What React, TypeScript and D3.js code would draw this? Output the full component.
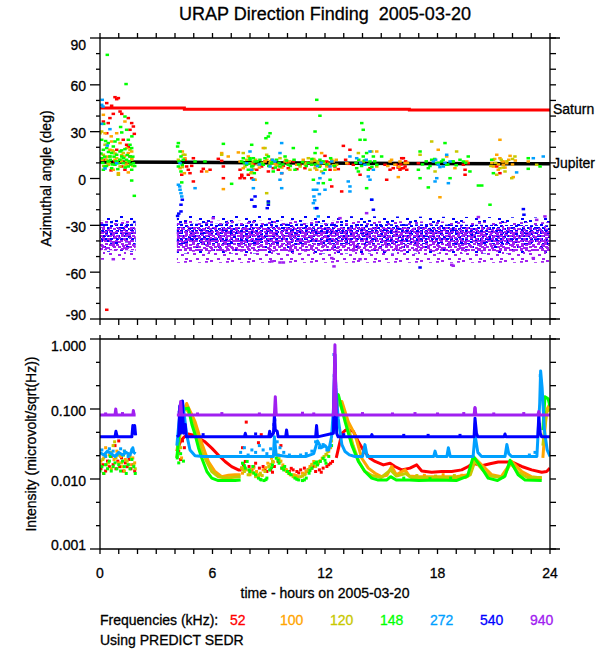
import React from "react";
import * as d3 from "d3";

type P = [number, number];
type Seg = (P | null)[];
type Band = [number, number, number] | null;

// ---------------- text / tick data ----------------
const titleText = "URAP Direction Finding  2005-03-20";
const xTitle = "time - hours on 2005-03-20";
const yTitleTop = "Azimuthal angle (deg)";
const yTitleBottom = "Intensity (microvolt/sqrt(Hz))";
const legendTitle = "Frequencies (kHz):";
const footNote = "Using PREDICT SEDR";
const freqLabels = ["52", "100", "120", "148", "272", "540", "940"];
const freqColors = ["#ff0000", "#ffa500", "#c8c800", "#00ff00", "#00a0ff", "#0000ff", "#a020f0"];
const hourLabels = [0, 6, 12, 18, 24];
const azMajor = [-90, -60, -30, 0, 30, 60, 90];
const intMajor = [0.001, 0.01, 0.1, 1];
const intLabels = ["0.001", "0.010", "0.100", "1.000"];
const planetLabels = ["Saturn", "Jupiter"];

// ---------------- planet directions (deg) ----------------
const saturnAz: P[] = [[0, 45.1], [4.5, 44.4], [16.5, 43.8], [24, 43.8]];
const jupiterAz: P[] = [[0, 10.5], [4.5, 10.4], [16.5, 9.6], [24, 9.4]];

// ---------------- azimuth scatter (hour, deg) ----------------
const az52: P[] = [
  [0.8, 52.1], [0.89, 50.8], [0.98, 51.5], [0.36, 48.3], [0.62, 46.6], [1.07, 42.9], [1.16, 41.4], [0.71, 41.4],
  [0.53, 38.7], [0.36, 29.0], [1.51, 38.7], [1.69, 35.5], [1.78, 33.3], [1.83, 28.6], [1.6, 31.2], [1.42, 21.6],
  [1.51, 20.1], [0.59, 5.2], [1.24, 24.8], [0.8, 10.9], [1.16, 7.7], [0.27, 12.0], [1.6, 14.1], [1.33, 5.6],
  [0.89, 18.4], [0.44, 35.5], [0.18, 36.5], [0.36, -84.1],
  [4.53, 12.0], [4.62, 7.7], [4.71, 5.6], [4.89, 8.1], [4.98, 13.0], [4.8, 3.4], [4.36, 2.4], [5.51, 6.2],
  [5.42, 4.5], [5.87, 5.6], [6.49, 11.3], [6.58, 7.7], [6.31, 12.6], [6.58, 0.2], [7.47, 0.2], [7.56, 2.4],
  [4.98, -1.9], [7.56, 1.3], [7.7, 0.2], [7.91, 2.4], [8.09, 0.2], [7.47, 5.6],
  [8.36, 5.6], [8.62, 7.7], [8.98, 4.5], [9.24, 6.6], [9.51, 5.6], [9.78, 8.1], [9.69, 3.4], [10.04, 6.6],
  [10.31, 10.9], [10.67, 8.8], [10.93, 6.6], [12.0, 14.5], [12.09, 10.9], [12.27, 5.6], [12.36, -5.1],
  [12.53, 7.7], [12.71, 6.0], [12.98, 20.9], [13.33, 18.4], [13.24, 9.4], [12.89, -8.3], [13.51, 8.8],
  [13.87, 2.4], [14.4, 6.6], [15.2, 8.8], [15.29, -0.8], [15.47, 5.6], [15.64, 6.6], [15.82, 8.8], [16.09, 6.6],
  [16.18, 13.0], [16.27, 7.7], [16.36, 5.6], [16.09, 13.0], [16.18, 6.6], [16.0, 5.6], [16.98, 9.8],
  [19.38, 8.8], [19.47, 5.6], [19.64, 9.8], [21.33, 3.4], [21.16, 7.7], [19.47, 2.4],
  [8.2, 9.0], [8.8, 11.0], [9.4, 9.0], [10.0, 10.0], [10.5, 6.0], [11.1, 10.0], [11.5, 8.5], [16.05, 9.0],
  [16.3, 11.0], [15.9, 7.0], [12.2, 8.0], [13.1, 12.0],
];
const az100: P[] = [
  [0.18, 40.8], [0.27, 29.0], [0.62, 23.7], [1.07, 22.7], [1.42, 19.5], [1.51, 16.3], [0.8, 12.0], [1.16, 10.9],
  [0.44, 8.8], [1.6, 8.8], [0.98, 3.4], [1.51, 3.9], [1.3, 14.1], [0.53, 18.4], [0.89, 29.0], [1.33, 36.5],
  [0.36, 21.6], [1.69, 17.3], [0.71, 5.6],
  [0.1, 12.0], [0.4, 14.0], [0.65, 18.0], [0.9, 11.0], [1.15, 15.0], [1.4, 9.0], [1.7, 13.0], [0.6, 27.0],
  [4.39, 17.3], [4.53, 13.0], [4.27, 6.6], [4.5, 3.4], [5.69, 4.5], [6.58, -6.8], [6.49, 16.3], [7.38, 16.7],
  [6.84, 14.1], [7.47, 10.9], [7.91, 14.1], [8.09, 4.5], [8.23, -0.8], [7.64, 6.6],
  [8.27, -0.8], [8.71, 19.5], [8.8, 10.9], [9.16, 12.0], [9.42, 8.8], [9.87, 10.9], [10.49, 8.8], [10.84, 12.0],
  [11.29, 8.8], [11.56, 5.6], [11.82, 16.3], [12.09, 7.7], [12.44, 10.9], [12.53, 5.6], [13.16, 9.8],
  [14.76, 17.3], [15.47, 10.9], [15.73, 8.8], [16.0, 10.9], [16.27, 9.8], [15.91, 0.9],
  [8.1, 9.0], [8.5, 7.0], [8.9, 12.0], [9.3, 9.5], [9.7, 7.0], [10.1, 11.0], [11.0, 10.0], [11.45, 11.5],
  [11.75, 8.0], [12.2, 9.5], [12.6, 12.0], [15.35, 8.0], [15.55, 12.0], [15.95, 7.5], [16.4, 10.0],
  [18.04, 18.4], [18.13, -12.0], [18.49, 14.1], [18.93, 6.6], [19.56, 10.9], [21.16, 15.2], [21.33, 13.0],
  [21.51, 8.8], [21.69, 9.8], [21.87, 14.5], [20.98, 7.7], [21.24, 5.6], [22.04, 0.9], [21.51, 10.9],
  [22.84, 10.9], [21.33, 24.8],
  [20.9, 10.0], [21.05, 12.5], [21.25, 9.0], [21.45, 11.0], [21.6, 7.0], [21.8, 12.0], [22.0, 9.0], [22.15, 11.5],
];
const az120: P[] = [
  [0.09, 30.1], [0.27, 21.6], [0.53, 14.1], [0.89, 13.0], [1.24, 16.3], [1.69, 12.0], [0.44, 9.8], [1.07, 7.7],
  [1.51, 10.9], [0.71, 17.3], [1.33, 7.7], [0.98, 2.4], [0.18, 15.2], [1.6, 18.4], [0.0, 29.0],
  [0.2, 8.0], [0.5, 10.0], [0.8, 16.0], [1.1, 12.0], [1.4, 11.0], [1.75, 8.0], [0.35, 12.0],
  [4.44, 15.2], [4.18, 12.0], [4.39, 7.3], [4.53, 15.2], [6.49, 15.2], [7.64, 16.3], [7.73, 7.7], [8.0, 9.8],
  [8.18, 6.0], [7.82, 12.0], [8.05, 3.4],
  [8.18, 10.9], [8.44, 8.8], [8.8, 19.5], [8.89, 15.2], [9.07, 9.8], [9.6, 13.0], [10.13, 5.6], [10.67, 7.7],
  [11.11, 13.0], [11.29, 10.9], [11.47, 6.6], [11.64, 9.8], [11.82, 4.5], [11.2, 5.6], [12.36, 12.0],
  [12.62, 8.8], [13.78, 16.3], [14.04, 10.9], [14.49, 17.3], [14.76, 7.7], [8.89, -9.4],
  [8.3, 12.0], [8.65, 10.0], [9.1, 11.0], [9.45, 8.0], [9.9, 12.0], [10.95, 9.0], [11.4, 12.5], [11.6, 11.0],
  [11.95, 10.0], [12.45, 8.5],
  [17.07, 15.2], [17.69, 23.7], [17.87, 4.5], [19.02, 17.3], [20.98, 12.0], [21.33, 6.6], [21.6, 4.5],
  [22.13, 14.1], [21.96, 0.2], [21.16, 2.4], [23.29, 8.8],
  [20.85, 8.0], [21.1, 10.0], [21.4, 12.0], [21.7, 11.0], [22.0, 12.5], [21.5, 7.0],
];
const az148: P[] = [
  [1.33, 39.7], [1.42, 31.2], [1.16, 29.5], [1.51, 24.8], [0.8, 23.7], [0.09, 24.8], [0.36, 19.5], [0.62, 16.3],
  [1.07, 17.3], [1.33, 18.8], [1.69, 19.5], [1.6, 14.1], [0.09, 13.0], [0.44, 10.9], [0.8, 8.8], [1.24, 9.8],
  [1.78, 9.8], [0.27, 7.7], [0.62, 6.6], [0.98, 9.8], [1.42, 12.0], [1.69, 5.6], [0.53, 14.1], [1.16, 14.1],
  [0.18, 18.4], [0.89, 15.2], [1.51, 7.7], [1.83, -11.1], [1.69, -1.3], [0.71, 20.5], [0.44, 22.7], [0.18, 5.6],
  [1.6, 21.6], [0.39, 79.2], [1.39, 60.5],
  [0.05, 16.0], [0.15, 10.0], [0.25, 14.0], [0.35, 8.0], [0.45, 17.0], [0.55, 12.0], [0.65, 9.0], [0.75, 14.0],
  [0.85, 11.0], [0.95, 6.0], [1.05, 12.0], [1.15, 18.0], [1.25, 13.0], [1.35, 7.0], [1.45, 15.0], [1.55, 11.0],
  [1.65, 9.0], [1.75, 14.0], [1.85, 8.0], [0.3, 24.0], [0.95, 25.0], [1.7, 27.0], [0.2, 35.0], [1.1, 33.0],
  [4.14, 20.5], [4.27, 17.3], [4.32, 14.1], [4.21, 10.9], [4.39, 8.8], [4.18, 7.7], [4.32, 4.5], [4.44, 12.0],
  [4.36, -2.5], [5.07, 10.9], [5.6, 10.9], [6.58, 22.2], [7.02, -3.4], [4.18, 22.7],
  [7.56, 10.9], [7.82, 8.8], [8.0, 12.0], [8.09, 7.7], [8.18, 13.0], [7.91, 5.6], [7.64, 13.0], [8.09, 21.6],
  [8.23, 3.4],
  [8.0, 13.0], [8.27, 10.9], [8.53, 12.0], [8.71, 8.8], [8.89, 35.5], [8.98, 26.9], [9.07, 29.0], [8.85, 25.8],
  [8.98, 14.1], [9.16, 9.8], [9.24, 4.5], [9.42, 12.0], [9.6, 7.7], [9.87, 14.1], [10.04, 8.8], [10.31, 19.5],
  [10.4, 5.6], [8.98, -15.4],
  [7.7, 10.0], [7.95, 9.5], [8.15, 8.0], [8.4, 11.0], [8.6, 9.5], [8.8, 13.0], [9.0, 8.0], [9.2, 11.5],
  [9.35, 7.0], [9.55, 10.0], [9.75, 9.0], [9.95, 11.5], [10.15, 8.0], [10.35, 12.0], [10.6, 9.0], [10.8, 10.5],
  [11.0, 8.0],
  [11.56, 50.4], [11.73, 40.2], [11.47, 30.1], [11.56, 19.5], [11.47, 16.3], [11.73, 12.0], [11.38, -0.8],
  [12.0, 5.6], [11.29, 8.8], [12.27, -0.8], [11.91, -3.0],
  [11.1, 10.0], [11.3, 12.5], [11.5, 9.0], [11.7, 7.5], [11.9, 11.0], [12.1, 9.0], [12.3, 13.0], [12.5, 8.0],
  [13.69, 6.6], [13.96, 35.5], [14.04, 31.2], [13.87, 24.8], [14.13, 24.8], [14.04, 14.1], [14.22, 16.3],
  [14.4, 10.9], [14.31, 5.6], [14.22, -6.2], [14.58, 14.1], [14.76, 8.8], [15.02, 14.1], [13.78, 4.5],
  [13.65, 10.0], [13.8, 12.0], [13.95, 8.0], [14.1, 11.5], [14.3, 9.0], [14.5, 7.5], [14.65, 11.0],
  [17.07, 17.3], [16.98, 5.6], [17.07, 0.2], [17.51, 6.6], [17.69, 12.0], [17.96, 9.8], [18.22, 10.9],
  [18.4, 22.7], [18.49, 8.8], [18.67, 0.2], [17.51, -5.7], [18.84, 10.9], [19.38, 10.9], [19.73, 4.5],
  [19.64, 14.1], [20.18, -4.5], [20.36, -4.5], [20.8, -16.8], [20.89, 12.0], [20.98, 3.4], [22.84, 13.0],
  [22.84, 6.2], [23.47, 7.7],
  [17.2, 9.0], [17.4, 11.0], [17.6, 8.0], [17.85, 12.5], [18.05, 10.0], [18.3, 12.0], [18.55, 9.0], [18.8, 11.0],
  [19.0, 8.5], [19.2, 12.0], [19.5, 10.0],
];
const az272: P[] = [
  [0.12, 50.4], [0.09, 47.2], [0.16, 46.1], [0.09, 35.0], [0.53, 31.6], [0.27, 6.4], [0.89, 9.8], [0.39, 21.1],
  [4.27, 9.8], [4.18, -4.0], [4.27, -7.2], [4.32, -9.4], [4.36, -11.5], [5.07, -6.2], [4.25, -5.1],
  [8.0, 17.3], [8.09, 5.6], [7.82, 9.8], [8.18, -0.8],
  [8.18, -6.2], [9.69, 22.7], [9.6, 16.3], [9.69, -6.2], [9.6, -0.8], [9.07, 7.7], [9.33, 10.9], [9.69, 3.4],
  [11.38, -7.2], [11.41, -11.5], [11.38, -15.8], [11.47, -19.0], [11.56, -7.2], [11.64, -3.0], [11.73, 0.2],
  [11.91, 3.4], [12.0, -7.2], [12.27, 7.7], [12.36, 10.9], [11.56, -19.0], [11.64, -24.3],
  [13.33, -5.1], [13.33, -8.3], [13.24, -1.9], [13.33, 14.1], [13.69, 13.0], [14.4, 17.3], [14.31, 1.3],
  [14.4, -0.8], [14.13, 8.8], [14.49, -13.6], [14.58, 5.6],
  [17.78, 10.9], [18.04, 8.8], [18.31, 7.7], [18.49, 15.2], [17.96, 0.2], [17.87, -1.9], [18.58, -3.0],
  [18.67, 10.9], [22.22, 3.9], [23.11, 13.0], [23.64, 14.1], [18.13, 7.3],
  [8.5, 9.0], [9.2, 12.0], [11.6, 8.0], [11.8, 10.0], [13.9, 10.0], [14.2, 12.0], [17.9, 12.0], [18.4, 10.0],
  [11.7, -10.0], [11.45, -14.0],
];
const az540: P[] = [
  [4.39, -13.6], [4.32, -16.8], [4.32, -21.1], [8.23, -17.9], [8.09, -13.6], [8.27, -11.5], [8.27, -17.9],
  [8.98, -14.7], [8.92, -19.0], [8.98, -16.8], [14.49, -13.6], [14.58, -20.0], [11.56, -19.0], [22.58, -19.6],
  [22.61, -23.2], [17.07, -57.0], [4.14, -24.0], [4.2, -22.5],
];
const az940: P[] = [
  [9.16, -53.1], [9.6, -53.8], [9.78, -53.8], [12.36, -51.0], [12.48, -56.3], [13.87, -51.7], [14.22, -22.2],
  [12.8, -25.4], [18.76, -55.3], [18.84, -55.9], [23.73, -24.3], [23.29, -26.5], [20.18, -24.7],
  [23.11, -51.0], [0.71, -51.7], [6.04, -25.4],
];
// dense bands of 540 and 940 kHz directions: (hour, low, high)
const band540: Band[] = [[0, -41, -29], [1.9, -41, -29], null, [4.1, -42, -29], [12, -42, -29], [24, -42, -30]];
const halo540: Band[] = [[0, -47, -24], [1.9, -47, -24], null, [4.1, -48, -24], [12, -48, -24], [24, -48, -25]];
const band940: Band[] = [[0, -52, -27], [1.9, -52, -27], null, [4.1, -54, -27], [12, -54, -27], [24, -54, -28]];
const core940: Band[] = [[0, -46, -31], [1.9, -46, -31], null, [4.1, -47, -31], [12, -47, -31], [24, -47, -32]];

// ---------------- intensity traces (hour, microvolt/sqrt(Hz)) ----------------
const int52: Seg = [
  [4.1, 0.025], [4.3, 0.035], [4.5, 0.04], [4.7, 0.044], [4.89, 0.043], [5.07, 0.042], [5.3, 0.038], [5.6, 0.034],
  [5.96, 0.0276], [6.31, 0.022], [6.67, 0.0178], [7.02, 0.015], [7.38, 0.0135], [7.55, 0.0135], null,
  [12.6, 0.02], [12.75, 0.03], [12.9, 0.045], [13.1, 0.05], [13.3, 0.05], [13.51, 0.048], [13.78, 0.034],
  [14.04, 0.026], [14.4, 0.0198], [14.67, 0.0178], [15.11, 0.0159], [15.47, 0.0168], [15.73, 0.0151],
  [16.09, 0.0135], [16.53, 0.0143], [16.89, 0.0159], [17.16, 0.013], [17.69, 0.0125], [18.22, 0.0128],
  [18.76, 0.0128], [19.29, 0.0135], [19.64, 0.0151], [19.91, 0.0168], [20.36, 0.0155], [20.8, 0.0165],
  [21.24, 0.0175], [21.96, 0.0175], [22.49, 0.0151], [23.02, 0.0135], [23.56, 0.0125], [23.82, 0.0128],
  [24.0, 0.0143],
];
const int100: Seg = [
  [4.1, 0.025], [4.3, 0.06], [4.5, 0.1], [4.62, 0.12], [4.75, 0.1], [5.07, 0.066], [5.4, 0.034], [5.78, 0.0178],
  [6.13, 0.0128], [6.49, 0.0108], [6.85, 0.0113], [7.2, 0.0115], [7.5, 0.0115], null,
  [12.45, 0.05], [12.6, 0.12], [12.9, 0.128], [13.24, 0.066], [13.6, 0.043], [13.96, 0.0198], [14.31, 0.0143],
  [14.67, 0.0121], [15.0, 0.0108], [15.3, 0.0113], [15.56, 0.0151], [15.8, 0.0115], [16.27, 0.0135],
  [16.5, 0.011], [17.0, 0.0108], [18.0, 0.0108], [19.0, 0.0108], [19.64, 0.0115], [20.0, 0.0198],
  [20.53, 0.0143], [20.9, 0.0115], [21.4, 0.0108], [21.96, 0.0178], [22.5, 0.0128], [23.0, 0.0108],
  [23.56, 0.0103], null, [23.62, 0.02], [23.75, 0.06], [23.85, 0.1], [24, 0.12],
];
const int120: Seg = [
  [4.1, 0.02], [4.3, 0.05], [4.45, 0.1], [4.62, 0.1], [4.89, 0.074], [5.2, 0.04], [5.45, 0.024], [5.69, 0.0178],
  [5.96, 0.0128], [6.3, 0.0108], [6.7, 0.0103], [7.0, 0.0105], [7.5, 0.0108], null,
  [12.5, 0.05], [12.7, 0.14], [12.9, 0.1], [13.2, 0.06], [13.5, 0.03], [13.8, 0.018], [14.1, 0.013],
  [14.5, 0.0112], [15.0, 0.0105], [15.5, 0.0135], [15.8, 0.011], [16.3, 0.012], [16.6, 0.0105], [17.5, 0.0105],
  [18.5, 0.0105], [19.5, 0.0105], [19.75, 0.0115], [20.0, 0.018], [20.4, 0.0135], [20.8, 0.011], [21.5, 0.0105],
  [21.9, 0.0168], [22.3, 0.0125], [22.8, 0.0105], [23.56, 0.0105], null, [23.62, 0.03], [23.8, 0.09], [24, 0.1],
];
const int148: Seg = [
  [4.1, 0.02], [4.3, 0.08], [4.5, 0.1], [4.71, 0.103], [4.9, 0.06], [5.07, 0.043], [5.25, 0.028], [5.43, 0.0198],
  [5.7, 0.0128], [5.96, 0.0103], [6.31, 0.0095], [6.7, 0.0095], [7.2, 0.0095], [7.5, 0.0097], null,
  [12.4, 0.05], [12.6, 0.15], [12.71, 0.16], [13.07, 0.066], [13.42, 0.031], [13.78, 0.0178], [14.13, 0.0128],
  [14.49, 0.0103], [14.8, 0.0097], [15.3, 0.0097], [15.5, 0.0108], [15.8, 0.0097], [16.5, 0.0097],
  [17.0, 0.0095], [18.0, 0.0097], [19.0, 0.0095], [19.6, 0.011], [19.91, 0.021], [20.36, 0.0143],
  [20.7, 0.0103], [21.2, 0.0095], [21.6, 0.011], [21.87, 0.0185], [22.3, 0.0115], [22.67, 0.0097],
  [23.56, 0.0095], null, [23.62, 0.05], [23.73, 0.15], [23.9, 0.14], [24, 0.11],
];
const int272: Seg = [
  [0, 0.024], [0.2, 0.022], [0.4, 0.025], [0.6, 0.023], [0.8, 0.021], [1.0, 0.024], [1.2, 0.022], [1.4, 0.024],
  [1.6, 0.022], [1.75, 0.028], [1.8, 0.024], [1.9, 0.023], null,
  [4.1, 0.03], [4.2, 0.06], [4.3, 0.1], [4.4, 0.128], [4.5, 0.08], [4.62, 0.043], [4.8, 0.026], [5.07, 0.0215],
  [5.5, 0.021], [6.5, 0.021], [7.4, 0.021], [7.9, 0.021], [8.5, 0.021], [9.25, 0.021], [9.3, 0.04], [9.4, 0.022],
  [10.0, 0.021], [11.0, 0.021], [11.4, 0.023], [11.6, 0.035], [11.8, 0.028], [12.0, 0.03], [12.2, 0.026],
  [12.35, 0.04], [12.45, 0.1], [12.52, 0.45], [12.58, 0.2], [12.7, 0.074], [12.9, 0.031], [13.07, 0.0247],
  [13.3, 0.0221], [13.6, 0.021], [14.0, 0.021], [14.13, 0.031], [14.25, 0.021], [17.8, 0.021], [17.87, 0.025],
  [17.95, 0.021], [18.5, 0.021], [18.58, 0.028], [18.68, 0.021], [19.9, 0.021], [20.0, 0.043], [20.15, 0.024],
  [20.35, 0.021], [21.6, 0.021], [21.7, 0.031], [21.8, 0.023], [21.95, 0.021], [23.3, 0.021], [23.45, 0.12],
  [23.5, 0.35], [23.58, 0.2], [23.7, 0.05], [23.85, 0.026], [24, 0.021],
];
const int540: Seg = [
  [0, 0.04], [0.8, 0.04], [0.85, 0.048], [0.92, 0.04], [1.7, 0.04], [1.75, 0.058], [1.8, 0.045], [1.85, 0.058],
  [1.9, 0.042], null,
  [4.1, 0.04], [4.2, 0.042], [4.25, 0.11], [4.3, 0.045], [4.4, 0.13], [4.45, 0.045], [4.55, 0.06], [4.6, 0.04],
  [7.7, 0.04], [7.75, 0.045], [7.8, 0.04], [9.0, 0.04], [9.05, 0.048], [9.1, 0.04], [9.25, 0.045], [9.3, 0.08],
  [9.35, 0.05], [9.45, 0.048], [9.5, 0.04], [9.9, 0.04], [9.95, 0.05], [10.0, 0.04], [11.5, 0.04], [11.55, 0.058],
  [11.6, 0.04], [12.45, 0.045], [12.53, 0.6], [12.62, 0.045], [12.7, 0.04], [14.45, 0.04], [14.5, 0.043],
  [14.55, 0.04], [19.95, 0.04], [20.0, 0.074], [20.08, 0.045], [20.15, 0.04], [21.55, 0.04], [21.6, 0.044],
  [21.65, 0.04], [23.35, 0.04], [23.4, 0.078], [23.48, 0.045], [23.55, 0.04], [24, 0.04],
];
const int940: Seg = [
  [0, 0.082], [0.8, 0.082], [0.84, 0.1], [0.88, 0.082], [1.75, 0.082], [1.78, 0.095], [1.82, 0.082], [1.9, 0.082],
  null,
  [4.1, 0.082], [4.25, 0.082], [4.3, 0.128], [4.35, 0.082], [9.3, 0.082], [9.35, 0.15], [9.4, 0.082],
  [12.45, 0.082], [12.53, 0.83], [12.6, 0.082], [19.95, 0.082], [20.0, 0.105], [20.05, 0.082], [23.35, 0.082],
  [23.4, 0.092], [23.45, 0.082], [24, 0.082],
];

// scattered intensity samples
const dots52: P[] = [
  [0.05, 0.014], [0.15, 0.016], [0.3, 0.013], [0.4, 0.018], [0.5, 0.015], [0.6, 0.021], [0.7, 0.016], [0.8, 0.03],
  [0.85, 0.014], [0.95, 0.018], [1.05, 0.015], [1.15, 0.02], [1.25, 0.013], [1.35, 0.017], [1.45, 0.015],
  [1.55, 0.019], [1.65, 0.014], [1.75, 0.016], [1.85, 0.013], [0.2, 0.012], [1.0, 0.035],
  [4.15, 0.03], [4.2, 0.025], [4.3, 0.019], [4.4, 0.035], [4.5, 0.028],
  [7.55, 0.0143], [7.6, 0.028], [7.8, 0.065], [7.75, 0.0178], [7.95, 0.0151], [8.1, 0.0135], [8.3, 0.0168],
  [8.5, 0.0143], [8.6, 0.043], [8.7, 0.0151], [8.9, 0.0128], [9.1, 0.0135], [9.3, 0.0151], [9.5, 0.0178],
  [9.7, 0.0143], [9.9, 0.0135], [10.1, 0.0128], [10.3, 0.0135], [10.5, 0.0128], [10.7, 0.0135], [10.9, 0.0143],
  [11.1, 0.0135], [11.3, 0.0143], [11.5, 0.0128], [11.7, 0.0135], [11.9, 0.0143], [12.1, 0.0151],
  [12.3, 0.0168], [12.4, 0.0178], [9.65, 0.03], [8.45, 0.033],
  [7.65, 0.016], [8.0, 0.0128], [8.2, 0.015], [8.8, 0.0138], [9.2, 0.0125], [9.8, 0.015], [10.2, 0.0142],
  [10.6, 0.0122], [11.0, 0.0128], [11.4, 0.0152], [11.8, 0.0125], [12.2, 0.016],
];
const dots100: P[] = [
  [0.05, 0.018], [0.2, 0.02], [0.35, 0.016], [0.5, 0.022], [0.6, 0.014], [0.75, 0.019], [0.9, 0.025], [1.0, 0.017],
  [1.1, 0.021], [1.2, 0.015], [1.35, 0.019], [1.5, 0.023], [1.6, 0.016], [1.75, 0.02], [1.85, 0.017],
  [0.3, 0.028], [1.3, 0.013], [4.2, 0.03], [4.35, 0.02],
  [7.6, 0.0121], [7.8, 0.0135], [8.0, 0.0115], [8.2, 0.0143], [8.35, 0.0128], [8.55, 0.0115], [8.7, 0.0135],
  [8.95, 0.0168], [9.15, 0.0198], [9.35, 0.0247], [9.5, 0.0221], [9.75, 0.0159], [9.95, 0.0135],
  [10.15, 0.0115], [10.35, 0.0115], [10.55, 0.0108], [10.8, 0.0121], [11.0, 0.0128], [11.2, 0.0151],
  [11.4, 0.0178], [11.65, 0.0168], [11.85, 0.0198], [12.1, 0.0221], [12.3, 0.028],
  [7.7, 0.0145], [8.1, 0.0125], [8.45, 0.0112], [8.85, 0.0145], [9.25, 0.0175], [9.65, 0.018], [10.05, 0.0122],
  [10.45, 0.0112], [10.95, 0.0118], [11.3, 0.0162], [11.75, 0.0182], [12.2, 0.025],
  [17.3, 0.0113], [18.3, 0.0115], [19.3, 0.0113],
];
const dots120: P[] = [
  [0.0, 0.016], [0.15, 0.019], [0.3, 0.022], [0.45, 0.017], [0.6, 0.024], [0.7, 0.03], [0.85, 0.02], [1.0, 0.022],
  [1.15, 0.017], [1.3, 0.025], [1.45, 0.018], [1.6, 0.021], [1.8, 0.016], [1.88, 0.014], [0.78, 0.034],
  [4.15, 0.022], [4.3, 0.028],
  [7.55, 0.0143], [7.7, 0.0128], [7.9, 0.0115], [8.05, 0.0135], [8.2, 0.0121], [8.4, 0.0115], [8.55, 0.0121],
  [8.8, 0.0128], [9.0, 0.0151], [9.2, 0.0178], [9.45, 0.021], [9.6, 0.0178], [9.8, 0.0143], [10.05, 0.0121],
  [10.3, 0.0108], [10.5, 0.0103], [10.7, 0.0108], [10.9, 0.0115], [11.1, 0.0135], [11.3, 0.0159],
  [11.5, 0.0151], [11.7, 0.0178], [11.95, 0.021], [12.15, 0.0247], [12.35, 0.035],
  [7.65, 0.0135], [8.0, 0.0122], [8.3, 0.0108], [8.65, 0.0112], [9.1, 0.0162], [9.55, 0.0195], [9.95, 0.0128],
  [10.4, 0.0105], [10.8, 0.011], [11.2, 0.0142], [11.6, 0.0165], [12.05, 0.0225],
  [16.9, 0.0112], [17.9, 0.011], [18.9, 0.0112],
];
const dots148: P[] = [
  [0.0, 0.013], [0.1, 0.015], [0.2, 0.012], [0.3, 0.016], [0.4, 0.014], [0.5, 0.018], [0.6, 0.013], [0.7, 0.015],
  [0.8, 0.017], [0.9, 0.014], [1.0, 0.016], [1.1, 0.013], [1.2, 0.018], [1.3, 0.015], [1.4, 0.012], [1.5, 0.016],
  [1.6, 0.014], [1.7, 0.019], [1.8, 0.015], [1.88, 0.012], [0.55, 0.021], [1.25, 0.022],
  [4.12, 0.02], [4.2, 0.017], [4.3, 0.023], [4.45, 0.018],
  [7.6, 0.0168], [7.75, 0.0143], [7.85, 0.0178], [8.0, 0.0128], [8.15, 0.0151], [8.3, 0.0115], [8.45, 0.0103],
  [8.6, 0.0097], [8.75, 0.0095], [8.9, 0.0103], [9.05, 0.0135], [9.2, 0.0159], [9.4, 0.0198], [9.55, 0.0168],
  [9.7, 0.0143], [9.85, 0.0151], [10.0, 0.0128], [10.2, 0.0115], [10.4, 0.0103], [10.6, 0.0097],
  [10.8, 0.0095], [11.0, 0.0103], [11.15, 0.0121], [11.3, 0.0143], [11.45, 0.0168], [11.6, 0.0159],
  [11.75, 0.0178], [11.9, 0.0198], [12.05, 0.0168], [12.2, 0.021], [12.35, 0.03],
  [7.7, 0.0155], [7.95, 0.0135], [8.2, 0.0122], [8.55, 0.0099], [8.85, 0.0098], [9.15, 0.0145], [9.5, 0.0185],
  [9.8, 0.0135], [10.1, 0.012], [10.5, 0.0099], [10.9, 0.0097], [11.2, 0.0132], [11.55, 0.0175], [12.0, 0.0185],
  [16.2, 0.0103], [17.6, 0.0101], [18.7, 0.0103],
];
const dots272: P[] = [
  [0.1, 0.026], [0.3, 0.021], [0.5, 0.027], [0.7, 0.025], [0.9, 0.022], [1.1, 0.027], [1.3, 0.025], [1.5, 0.021],
  [1.7, 0.026], [4.15, 0.035], [4.25, 0.05], [4.35, 0.07],
  [7.5, 0.024], [7.7, 0.028], [7.9, 0.022], [8.1, 0.026], [8.3, 0.024], [8.5, 0.03], [8.7, 0.026], [8.9, 0.023],
  [9.1, 0.027], [9.45, 0.034], [9.6, 0.028], [9.8, 0.024], [10.1, 0.022], [10.4, 0.021], [10.7, 0.022],
  [11.0, 0.023], [11.3, 0.025], [11.5, 0.034], [11.7, 0.028], [11.9, 0.031], [12.1, 0.026], [12.3, 0.03],
  [12.48, 0.6], [12.5, 0.3], [12.55, 0.25], [23.48, 0.3], [23.52, 0.25], [23.2, 0.024], [22.9, 0.022],
];
const dots540: P[] = [
  [4.22, 0.09], [4.25, 0.07], [4.3, 0.06], [4.35, 0.1], [4.4, 0.055], [4.45, 0.048], [1.78, 0.05], [1.8, 0.055],
  [9.28, 0.06], [9.32, 0.07], [12.5, 0.3], [12.52, 0.15], [5.5, 0.043], [8.3, 0.044], [13.0, 0.043],
  [16.2, 0.042], [17.5, 0.042], [19.2, 0.042], [20.02, 0.06], [23.42, 0.06],
];
const dots940: P[] = [
  [0.3, 0.085], [1.2, 0.086], [5.2, 0.085], [6.5, 0.086], [8.5, 0.085], [10.8, 0.087], [11.4, 0.085],
  [14.0, 0.086], [15.6, 0.085], [16.8, 0.086], [18.0, 0.085], [19.4, 0.086], [21.0, 0.085], [22.6, 0.086],
  [12.5, 0.6], [12.52, 0.4], [20.0, 0.1], [9.36, 0.12],
];

const azSeries = [az52, az100, az120, az148, az272, az540, az940];
const intLines = [int52, int100, int120, int148, int272, int540, int940];
const intDots = [dots52, dots100, dots120, dots148, dots272, dots540, dots940];

// speckle textures used for the dense direction bands (styling only)
const speckBlue = { w: 15, h: 8, cells: [[0, 0], [5, 1], [10, 0], [2, 3], [8, 4], [12, 3], [0, 6], [5, 6], [11, 6]] };
const speckBlueSparse = { w: 23, h: 11, cells: [[0, 0], [11, 4], [18, 1], [5, 7], [15, 9]] };
const speckPurple = { w: 16, h: 9, cells: [[0, 0], [4, 1], [9, 0], [13, 1], [1, 3], [6, 3], [11, 4], [3, 6], [8, 6], [13, 6], [0, 7]] };
const speckPurpleSparse = { w: 21, h: 13, cells: [[0, 0], [9, 2], [16, 1], [4, 6], [13, 7], [19, 5], [7, 11], [17, 11]] };

const FONT = "'Liberation Sans', Arial, Helvetica, sans-serif";

export default function App() {
  const L = 100, R = 550;
  const topT = 38, topB = 319, botT = 339, botB = 549;
  const x = d3.scaleLinear().domain([0, 24]).range([L, R]);
  const yAz = d3.scaleLinear().domain([-90, 90]).range([topB, topT]);
  const yInt = d3.scaleLog().domain([0.001, 1]).range([botB, botT]);

  const hours = d3.range(0, 25);
  const azTicks = d3.range(-90, 91, 10);
  const intMinor = d3.range(-3, 0).flatMap((k) => [k + 1 / 3, k + 2 / 3]).map((e) => Math.pow(10, e));

  const lineInt = d3.line<P | null>().defined((d) => d !== null).x((d) => x(d![0])).y((d) => yInt(d![1]));
  const lineAz = d3.line<P>().x((d) => x(d[0])).y((d) => yAz(d[1]));
  const stepAz = d3.line<P>().x((d) => x(d[0])).y((d) => yAz(d[1])).curve(d3.curveStepAfter);
  const bandArea = d3.area<Band>().defined((d) => d !== null).x((d) => x(d![0])).y0((d) => yAz(d![1])).y1((d) => yAz(d![2]));

  const labelY = (pos: number, t: number, b: number) => Math.min(Math.max(pos + 1.5, t + 7), b - 4) + 5;
  const txt = { fontFamily: FONT, fill: "#000", stroke: "#000", strokeWidth: 0.3 } as const;
  const axis = { stroke: "#000", strokeWidth: 1.3, fill: "none" } as const;

  const pattern = (id: string, p: { w: number; h: number; cells: number[][] }, color: string) => (
    <pattern id={id} width={p.w} height={p.h} patternUnits="userSpaceOnUse">
      {p.cells.map((c, i) => (
        <rect key={i} x={c[0]} y={c[1]} width={3} height={2} fill={color} />
      ))}
    </pattern>
  );

  return (
    <svg width={600} height={650} viewBox="0 0 600 650" style={{ position: "absolute", left: 0, top: 0, background: "#fff" }}>
      <defs>
        {pattern("spBlue", speckBlue, freqColors[5])}
        {pattern("spBlueSparse", speckBlueSparse, freqColors[5])}
        {pattern("spPurple", speckPurple, freqColors[6])}
        {pattern("spPurpleSparse", speckPurpleSparse, freqColors[6])}
        <clipPath id="clipTop"><rect x={L} y={topT} width={R - L} height={topB - topT} /></clipPath>
        <clipPath id="clipBot"><rect x={L} y={botT} width={R - L} height={botB - botT} /></clipPath>
      </defs>

      <text x={325} y={20} style={{ ...txt, fontSize: 18, whiteSpace: "pre" }} textAnchor="middle">{titleText}</text>

      {/* ---------- top panel: azimuth ---------- */}
      <g clipPath="url(#clipTop)">
        <path d={stepAz(saturnAz)!} stroke="#ff0000" strokeWidth={3} fill="none" />
        <path d={lineAz(jupiterAz)!} stroke="#000" strokeWidth={3.5} fill="none" />
        <path d={bandArea(halo540)!} fill="url(#spBlueSparse)" />
        <path d={bandArea(band540)!} fill="url(#spBlue)" />
        <path d={bandArea(band940)!} fill="url(#spPurpleSparse)" />
        <path d={bandArea(core940)!} fill="url(#spPurple)" />
        {azSeries.map((s, si) => (
          <g key={si} fill={freqColors[si]}>
            {s.map((d, i) => (
              <rect key={i} x={x(d[0]) - 1.75} y={yAz(d[1]) - 1.25} width={3.5} height={2.5} />
            ))}
          </g>
        ))}
      </g>
      <g style={axis}>
        <line x1={L} x2={L} y1={topT} y2={topB} />
        <line x1={R} x2={R} y1={topT} y2={topB} />
        <line x1={L} x2={R + 10} y1={topT} y2={topT} />
        <line x1={L} x2={R + 10} y1={topB} y2={topB} />
        {hours.map((h) => (
          <g key={h}>
            <line x1={x(h)} x2={x(h)} y1={topT} y2={topT - 5} />
            <line x1={x(h)} x2={x(h)} y1={topB} y2={topB + 6} />
          </g>
        ))}
        {azTicks.map((a) => (
          <g key={a}>
            <line x1={L} x2={L - (azMajor.includes(a) ? 10 : 4)} y1={yAz(a)} y2={yAz(a)} />
            <line x1={R} x2={R + 6} y1={yAz(a)} y2={yAz(a)} />
          </g>
        ))}
      </g>
      {azMajor.map((a) => (
        <text key={a} x={86} y={labelY(yAz(a), topT, topB)} style={{ ...txt, fontSize: 14 }} textAnchor="end">{a}</text>
      ))}
      <text x={553} y={yAz(saturnAz[0][1]) + 6} style={{ ...txt, fontSize: 14 }}>{planetLabels[0]}</text>
      <text x={553} y={yAz(jupiterAz[3][1]) + 4.5} style={{ ...txt, fontSize: 14 }}>{planetLabels[1]}</text>
      <text transform={`translate(51,${(topT + topB) / 2}) rotate(-90)`} style={{ ...txt, fontSize: 14 }} textAnchor="middle">{yTitleTop}</text>

      {/* ---------- bottom panel: intensity ---------- */}
      <g clipPath="url(#clipBot)">
        {intLines.map((s, si) => (
          <g key={si}>
            <path d={lineInt(s)!} stroke={freqColors[si]} strokeWidth={3} fill="none" strokeLinejoin="round" />
            {intDots[si].map((d, i) => (
              <rect key={i} x={x(d[0]) - 1.5} y={yInt(d[1]) - 1.5} width={3} height={3} fill={freqColors[si]} />
            ))}
          </g>
        ))}
      </g>
      <g style={axis}>
        <line x1={L} x2={L} y1={botT} y2={botB} />
        <line x1={R} x2={R} y1={botT} y2={botB} />
        <line x1={L} x2={R + 10} y1={botT} y2={botT} />
        <line x1={L} x2={R + 10} y1={botB} y2={botB} />
        {hours.map((h) => (
          <g key={h}>
            <line x1={x(h)} x2={x(h)} y1={botT} y2={botT - 4} />
            <line x1={x(h)} x2={x(h)} y1={botB} y2={botB + 5} />
          </g>
        ))}
        {intMajor.map((v) => (
          <g key={v}>
            <line x1={L} x2={L - 10} y1={yInt(v)} y2={yInt(v)} />
            <line x1={R} x2={R + 6} y1={yInt(v)} y2={yInt(v)} />
          </g>
        ))}
        {intMinor.map((v, i) => (
          <g key={i}>
            <line x1={L} x2={L - 4} y1={yInt(v)} y2={yInt(v)} />
            <line x1={R} x2={R + 6} y1={yInt(v)} y2={yInt(v)} />
          </g>
        ))}
      </g>
      {intMajor.map((v, i) => (
        <text key={v} x={86} y={labelY(yInt(v), botT, botB)} style={{ ...txt, fontSize: 14 }} textAnchor="end">{intLabels[i]}</text>
      ))}
      <text transform={`translate(36,${(botT + botB) / 2}) rotate(-90)`} style={{ ...txt, fontSize: 14 }} textAnchor="middle">{yTitleBottom}</text>

      {hourLabels.map((h) => (
        <text key={h} x={x(h)} y={578} style={{ ...txt, fontSize: 14 }} textAnchor="middle">{h}</text>
      ))}
      <text x={325} y={598} style={{ ...txt, fontSize: 14 }} textAnchor="middle">{xTitle}</text>

      {/* ---------- legend ---------- */}
      <text x={100} y={625} style={{ ...txt, fontSize: 14 }}>{legendTitle}</text>
      {freqLabels.map((f, i) => (
        <text key={f} x={230 + i * 50} y={625} style={{ ...txt, fontSize: 14, fill: freqColors[i], stroke: freqColors[i] }}>{f}</text>
      ))}
      <text x={100} y={645} style={{ ...txt, fontSize: 14 }}>{footNote}</text>
    </svg>
  );
}
